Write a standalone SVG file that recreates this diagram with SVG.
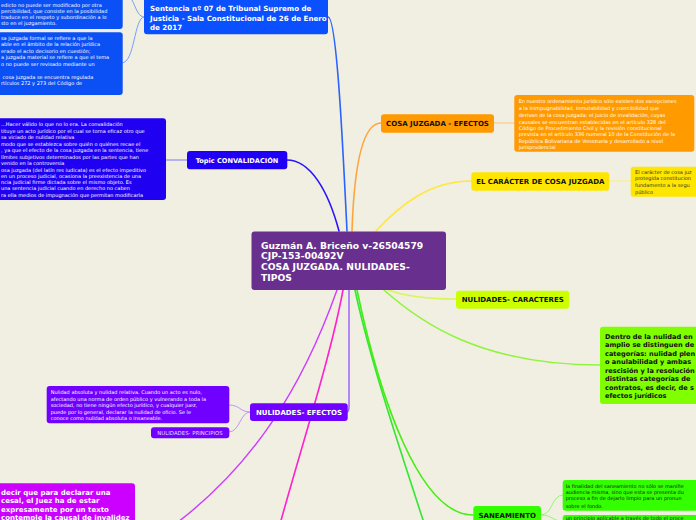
<svg xmlns="http://www.w3.org/2000/svg" width="696" height="520" viewBox="0 0 696 520">
<style>
.lbl{font-family:"DejaVu Sans",Verdana,sans-serif;font-weight:bold;font-size:7px}
.body{font-family:"DejaVu Sans",Verdana,sans-serif;font-size:5px}
.w{fill:#ffffff}
.k{fill:#111111}
.c{fill:none;stroke-linecap:round}
</style>
<rect x="0" y="0" width="696" height="520" fill="#f1eee2"/>
<g id="connectors">
  <!-- main branches -->
  <path class="c" d="M328,17 C337,17 343,150 347,231" stroke="#2a63ff" stroke-width="1.6"/>
  <path class="c" d="M287,160 C310,160 328,190 339,231" stroke="#2a14ff" stroke-width="1.6"/>
  <path class="c" d="M352,231 C354,170 362,123 381,123" stroke="#ffa43a" stroke-width="1.6"/>
  <path class="c" d="M376,231 C400,205 430,181 471,181" stroke="#ffe83a" stroke-width="1.6"/>
  <path class="c" d="M388,290 C405,296 430,299 456,299" stroke="#d8f55a" stroke-width="1.4"/>
  <path class="c" d="M384,290 C420,322 480,365 600,365" stroke="#8ef53a" stroke-width="1.6"/>
  <path class="c" d="M349,290 L349,406 Q349,412 347,412" stroke="#9a5cff" stroke-width="1.4"/>
  <path class="c" d="M337,290 C305,380 255,470 160,535" stroke="#cc3cff" stroke-width="1.4"/>
  <path class="c" d="M343,290 C330,360 300,450 277,535" stroke="#ff22cc" stroke-width="1.6"/>
  <path class="c" d="M355,290 C370,360 400,450 428,535" stroke="#33e633" stroke-width="1.6"/>
  <path class="c" d="M357,290 C380,400 420,515 473,515" stroke="#44ee11" stroke-width="1.6"/>
  <!-- sub branches -->
  <path class="c" d="M122,-8 C135,-8 134,17 144,17" stroke="#6a95ff" stroke-width="0.9"/>
  <path class="c" d="M122,63 C135,63 134,17 144,17" stroke="#6a95ff" stroke-width="0.9"/>
  <path class="c" d="M166,160 L187,160" stroke="#6e66ff" stroke-width="0.9"/>
  <path class="c" d="M494,123 L514,123" stroke="#ffc47a" stroke-width="1.2"/>
  <path class="c" d="M609,181 L631,181" stroke="#fff07a" stroke-width="1.2"/>
  <path class="c" d="M250,412 C240,412 240,405 229,405" stroke="#b48cff" stroke-width="0.9"/>
  <path class="c" d="M250,412 C240,412 240,432 229,432" stroke="#b48cff" stroke-width="0.9"/>
  <path class="c" d="M541,515 C553,515 551,495 563,495" stroke="#8cf56a" stroke-width="0.9"/>
  <path class="c" d="M541,515 C553,515 551,521 563,521" stroke="#8cf56a" stroke-width="0.9"/>
</g>

<g id="center">
  <rect x="251.5" y="231.5" width="194.5" height="58.5" rx="3" fill="#682f8f"/>
  <text class="lbl w" x="261" style="font-size:9.2px"><tspan x="261" y="248.5">Guzmán A. Briceño v-26504579</tspan><tspan x="261" y="259.3">CJP-153-00492V</tspan><tspan x="261" y="270.2">COSA JUZGADA. NULIDADES-</tspan><tspan x="261" y="281">TIPOS</tspan></text>
</g>

<g id="sentencia">
  <rect x="144" y="-4" width="184" height="38.3" rx="3" fill="#0a50ff"/>
  <text class="lbl w" style="font-size:7.1px"><tspan x="150" y="10.8">Sentencia nº 07 de Tribunal Supremo de</tspan><tspan x="150" y="21">Justicia - Sala Constitucional de 26 de Enero</tspan><tspan x="150" y="29.8">de 2017</tspan></text>
</g>

<g id="sentencia-nota-1">
  <rect x="-10" y="-10" width="132.7" height="39" rx="3" fill="#0a50f5"/>
  <text class="body w"><tspan x="1" y="6.8">edicto no puede ser modificado por otra</tspan><tspan x="1" y="12.8">percibilidad, que consiste en la posibilidad</tspan><tspan x="1" y="18.6">traduce en el respeto y subordinación a lo</tspan><tspan x="1" y="25.1">sto en el juzgamiento.</tspan></text>
</g>

<g id="sentencia-nota-2">
  <rect x="-10" y="32.3" width="132.7" height="62.7" rx="3" fill="#0a50f5"/>
  <text class="body w"><tspan x="1" y="40.1">sa juzgada formal se refiere a que la</tspan><tspan x="1" y="46.2">able en el ámbito de la relación jurídica</tspan><tspan x="1" y="52.8">erado el acto decisorio en cuestión;</tspan><tspan x="1" y="59.1">a juzgada material se refiere a que el tema</tspan><tspan x="1" y="65.5">o no puede ser revisado mediante un</tspan><tspan x="1" y="78.8"> cosa juzgada se encuentra regulada</tspan><tspan x="1" y="85.1">rtículos 272 y 273 del Código de</tspan></text>
</g>

<g id="convalidacion">
  <rect x="187" y="151" width="100.3" height="18.3" rx="3" fill="#1f00f5"/>
  <text class="lbl w" x="237" y="162.7" text-anchor="middle" style="font-size:6.6px">Topic CONVALIDACIÓN</text>
</g>

<g id="convalidacion-nota">
  <rect x="-10" y="118.3" width="176" height="81.7" rx="3" fill="#1f00f0"/>
  <text class="body w"><tspan x="1" y="126.1">...Hacer válido lo que no lo era. La convalidación</tspan><tspan x="1" y="132.8">tituye un acto jurídico por el cual se torna eficaz otro que</tspan><tspan x="1" y="138.8">sa viciado de nulidad relativa</tspan><tspan x="1" y="145.5">modo que se establezca sobre quién o quiénes recae el</tspan><tspan x="1" y="151.5">, ya que el efecto de la cosa juzgada en la sentencia, tiene</tspan><tspan x="1" y="158.8">límites subjetivos determinados por las partes que han</tspan><tspan x="1" y="164.5">venido en la controversia</tspan><tspan x="1" y="171.8">osa juzgada (del latín res iudicata) es el efecto impeditivo</tspan><tspan x="1" y="177.8">en un proceso judicial, ocasiona la preexistencia de una</tspan><tspan x="1" y="183.8">ncia judicial firme dictada sobre el mismo objeto. Es</tspan><tspan x="1" y="189.8">una sentencia judicial cuando en derecho no caben</tspan><tspan x="1" y="197.1">ra ella medios de impugnación que permitan modificarla</tspan></text>
</g>

<g id="cosa-juzgada-efectos">
  <rect x="381" y="114.3" width="113" height="18.4" rx="3" fill="#ff9a00"/>
  <text class="lbl k" x="437.5" y="126" text-anchor="middle">COSA JUZGADA - EFECTOS</text>
</g>

<g id="cosa-juzgada-efectos-nota">
  <rect x="514.3" y="95" width="180" height="56.7" rx="3" fill="#ff9a00"/>
  <text class="body w"><tspan x="518.7" y="102.8">En nuestro ordenamiento jurídico sólo existen dos excepciones</tspan><tspan x="518.7" y="109.8">a la inimpugnabilidad, inmutabilidad y coercibilidad que</tspan><tspan x="518.7" y="116.8">derivan de la cosa juzgada: el juicio de invalidación, cuyas</tspan><tspan x="518.7" y="123.5">causales se encuentran establecidas en el artículo 328 del</tspan><tspan x="518.7" y="130.1">Código de Procedimiento Civil y la revisión constitucional</tspan><tspan x="518.7" y="135.8">prevista en el artículo 336 numeral 10 de la Constitución de la</tspan><tspan x="518.7" y="142.5">República Bolivariana de Venezuela y desarrollado a nivel</tspan><tspan x="518.7" y="149.1">jurisprudencial</tspan></text>
</g>

<g id="caracter-cosa-juzgada">
  <rect x="471.3" y="172.3" width="138" height="18.4" rx="3" fill="#ffe600"/>
  <text class="lbl k" x="540.3" y="184" text-anchor="middle">EL CARÁCTER DE COSA JUZGADA</text>
</g>

<g id="caracter-cosa-juzgada-nota">
  <rect x="630.7" y="166.7" width="80" height="30" rx="3" fill="#ffe600"/>
  <text class="body" fill="#333333"><tspan x="635" y="173.5">El carácter de cosa juz</tspan><tspan x="635" y="179.8">protegida constitucion</tspan><tspan x="635" y="186.5">fundamento a la segu</tspan><tspan x="635" y="193.5">público</tspan></text>
</g>

<g id="nulidades-caracteres">
  <rect x="456" y="290.7" width="113.3" height="18" rx="3" fill="#ccff00"/>
  <text class="lbl k" x="512.7" y="302.2" text-anchor="middle">NULIDADES- CARACTERES</text>
</g>

<g id="dentro-nulidad">
  <rect x="600" y="326.7" width="110" height="77.3" rx="3" fill="#80ff00"/>
  <text class="lbl k" style="font-size:6.6px"><tspan x="605" y="338.5">Dentro de la nulidad en</tspan><tspan x="605" y="347.2">amplio se distinguen de</tspan><tspan x="605" y="355.5">categorías: nulidad plen</tspan><tspan x="605" y="364.2">o anulabilidad y ambas</tspan><tspan x="605" y="372.5">rescisión y la resolución</tspan><tspan x="605" y="381.2">distintas categorías de</tspan><tspan x="605" y="389.5">contratos, es decir, de s</tspan><tspan x="605" y="398.2">efectos jurídicos</tspan></text>
</g>

<g id="nulidades-efectos">
  <rect x="250" y="403.3" width="97.7" height="17.7" rx="3" fill="#7000ff"/>
  <text class="lbl w" x="299" y="414.6" text-anchor="middle">NULIDADES- EFECTOS</text>
</g>

<g id="nulidades-efectos-nota">
  <rect x="46.7" y="386" width="182.6" height="37.3" rx="3" fill="#7000ff"/>
  <text class="body w"><tspan x="50.7" y="394.1">Nulidad absoluta y nulidad relativa. Cuando un acto es nulo,</tspan><tspan x="50.7" y="400.8">afectando una norma de orden público y vulnerando a toda la</tspan><tspan x="50.7" y="407.1">sociedad, no tiene ningún efecto jurídico, y cualquier juez,</tspan><tspan x="50.7" y="414.1">puede por lo general, declarar la nulidad de oficio. Se le</tspan><tspan x="50.7" y="420.1">conoce como nulidad absoluta o insaneable.</tspan></text>
</g>

<g id="nulidades-principios">
  <rect x="151" y="427.3" width="78.3" height="11" rx="3" fill="#7000ff"/>
  <text class="body" fill="#e6dcff" x="190" y="434.9" text-anchor="middle" style="font-size:5.4px">NULIDADES- PRINCIPIOS</text>
</g>

<g id="invalidez">
  <rect x="-10" y="483.3" width="145" height="50" rx="3" fill="#cc00ff"/>
  <text class="lbl w"><tspan x="1" y="494.8">decir que para declarar una</tspan><tspan x="1" y="503.2">cesal, el Juez ha de estar</tspan><tspan x="1" y="512.2">expresamente por un texto</tspan><tspan x="1" y="519.6">contemple la causal de invalidez</tspan></text>
</g>

<g id="saneamiento">
  <rect x="473.3" y="506" width="67.7" height="20" rx="3" fill="#33ff00"/>
  <text class="lbl k" x="507.2" y="518" text-anchor="middle">SANEAMIENTO</text>
</g>

<g id="saneamiento-nota-1">
  <rect x="562.7" y="480" width="140" height="30.7" rx="3" fill="#33ff00"/>
  <text class="body" fill="#1a1a1a"><tspan x="565.7" y="487.5">la finalidad del saneamiento no sólo se manifie</tspan><tspan x="565.7" y="493.8">audiencia misma, sino que esta se presenta du</tspan><tspan x="565.7" y="499.8">proceso a fin de dejarlo limpio para un pronun</tspan><tspan x="565.7" y="507.8">sobre el fondo.</tspan></text>
</g>

<g id="saneamiento-nota-2">
  <rect x="562.7" y="515" width="140" height="20" rx="3" fill="#33ff00"/>
  <text class="body" fill="#1a1a1a"><tspan x="565.7" y="520">un principio aplicable a través de todo el proce</tspan></text>
</g>
</svg>
